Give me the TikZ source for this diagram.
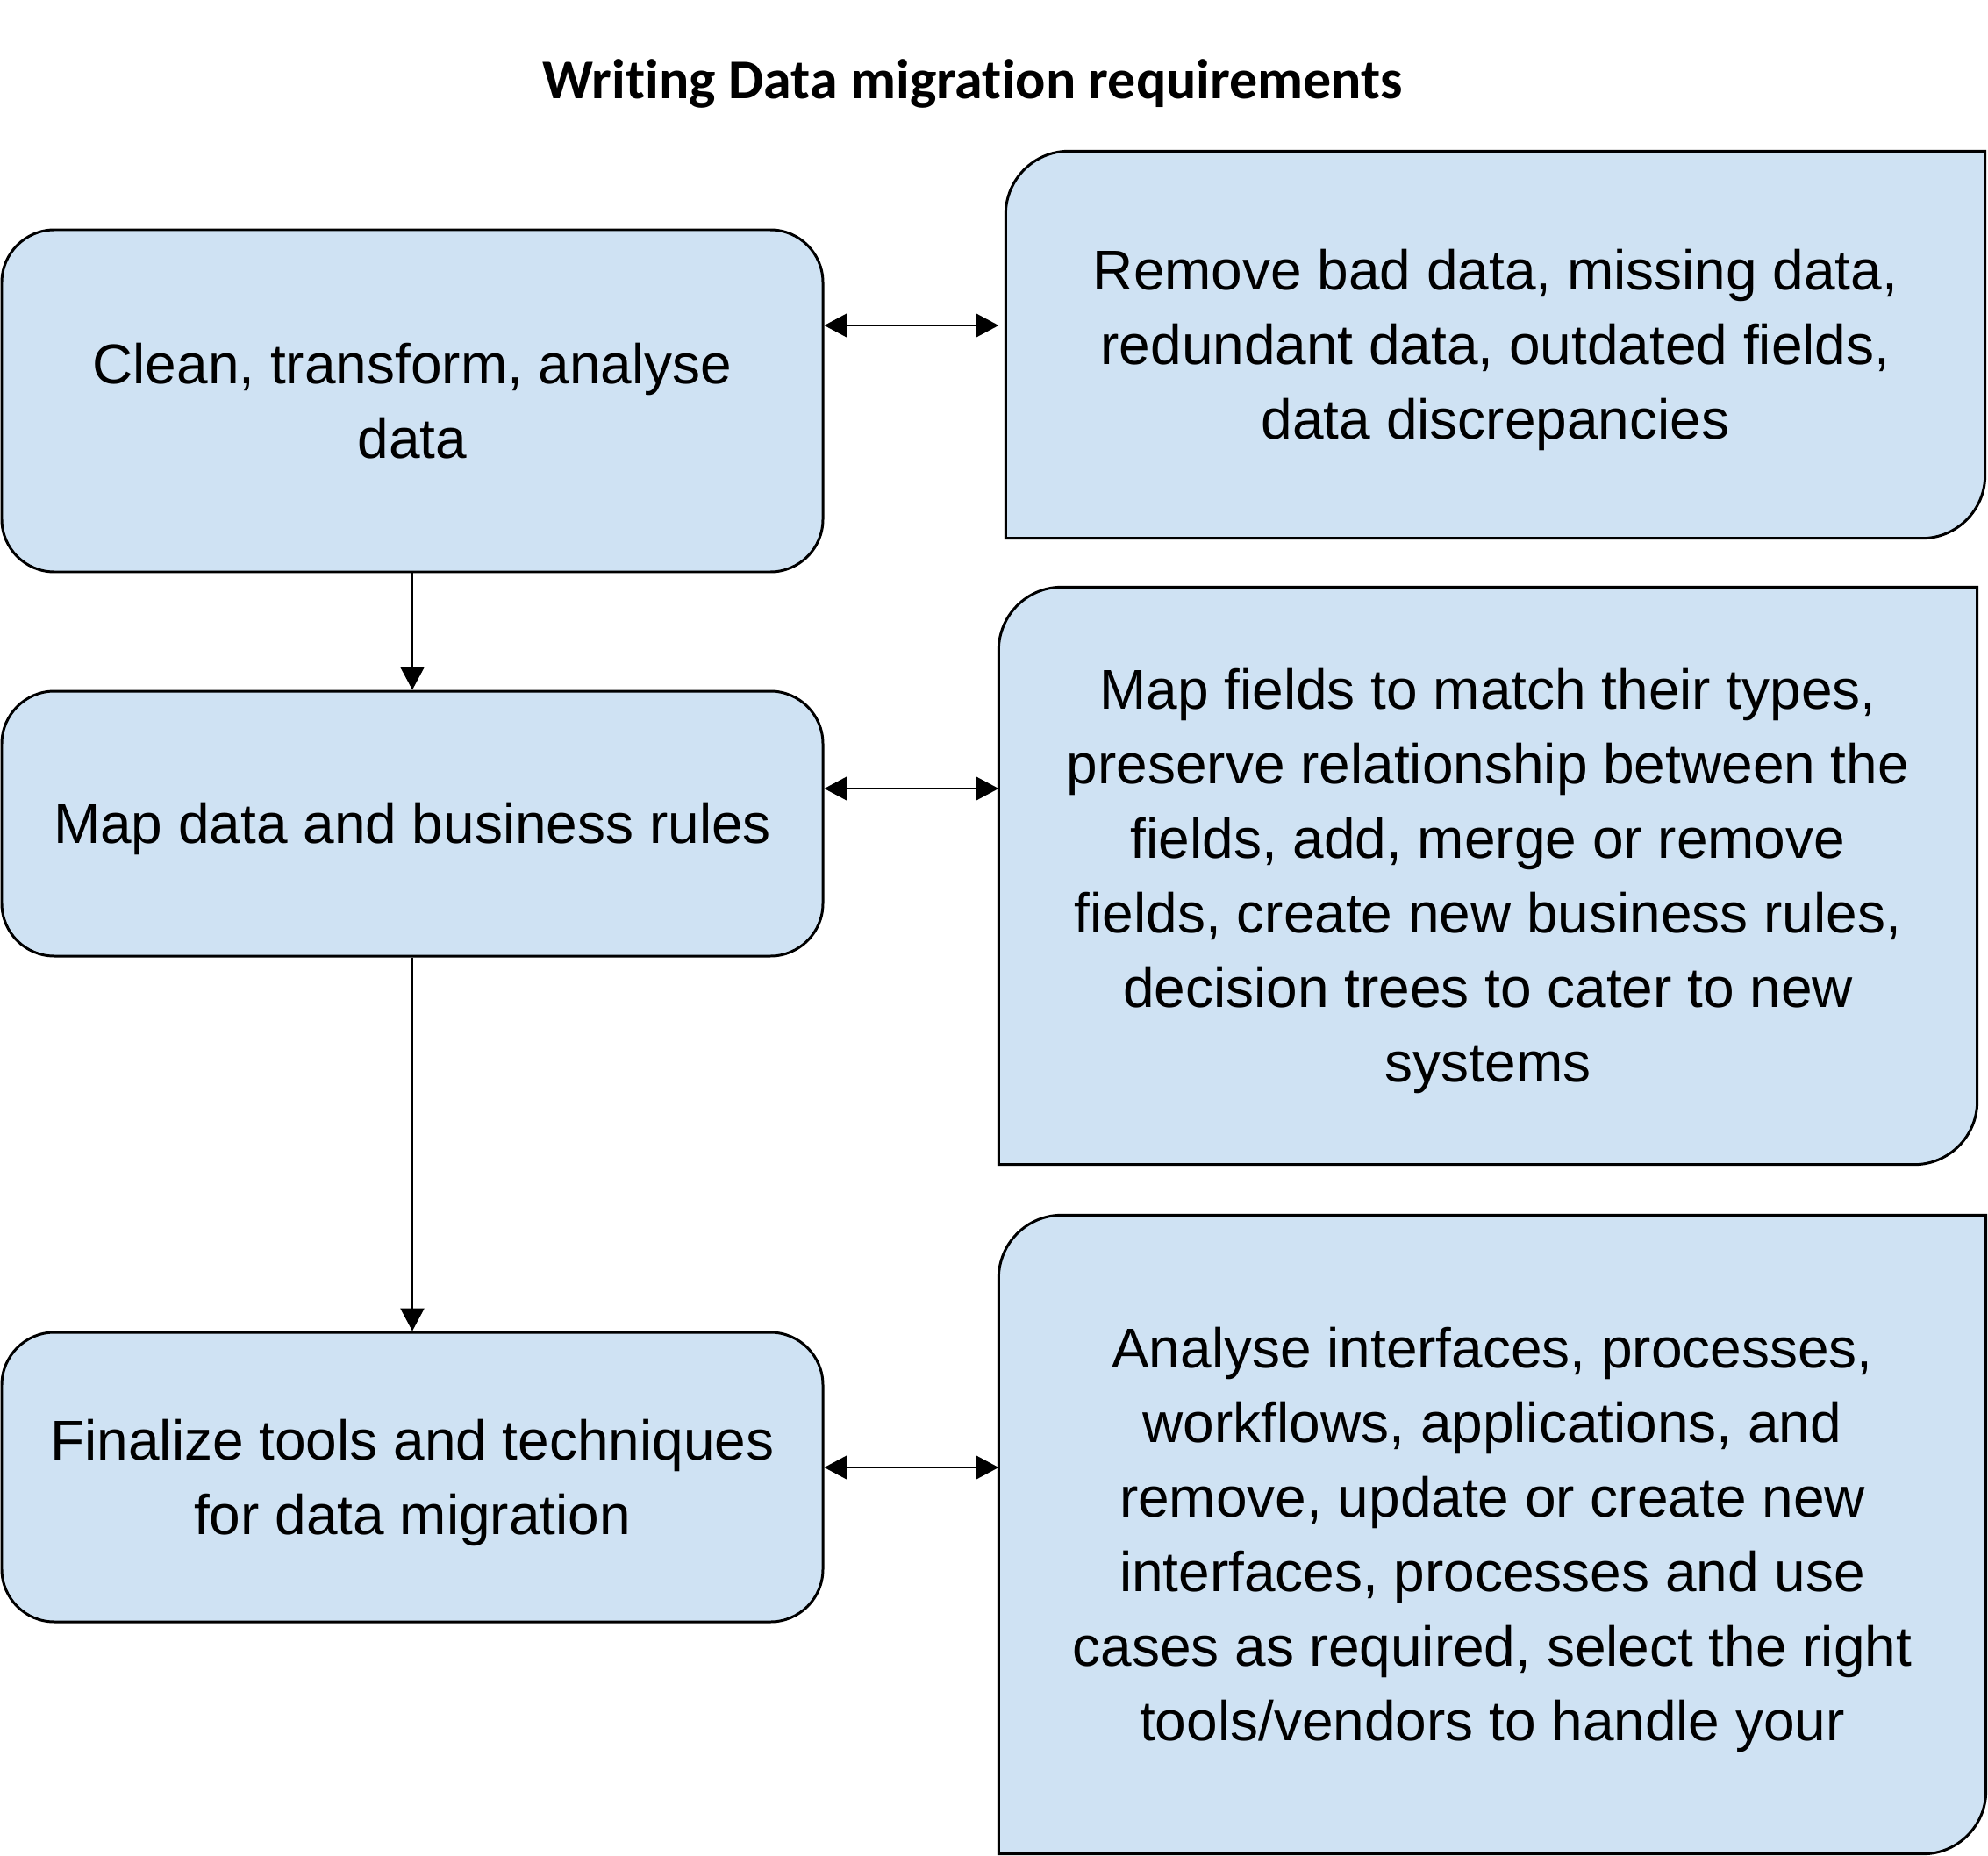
\documentclass[tikz,border=0pt]{standalone}
\usepackage{fontspec}
\setmainfont{Liberation Sans}
\newfontfamily\titlefont[RawFeature={-liga;-clig;-dlig}]{Carlito}
\usetikzlibrary{arrows.meta,backgrounds}
\definecolor{boxblue}{HTML}{CFE2F3}
\newcommand{\tallline}{\rule{0pt}{16.7pt}}
\tikzset{
  stage/.style={draw, fill=boxblue, line width=0.85pt, rounded corners=6mm, align=center, inner sep=0pt, minimum width=9.36cm},
  note/.style={align=center, inner sep=0pt},
  notebox/.style={draw, fill=boxblue, line width=0.85pt},
  link/.style={line width=0.7pt}
}
\begin{document}
\begin{tikzpicture}[font=\fontsize{18.2}{24.2}\selectfont, >={Triangle[length=0.26cm,width=0.27cm]}]
  \useasboundingbox (0,0) rectangle (22.66,-21.16);
  \node[anchor=base, font=\titlefont\bfseries\fontsize{18.2}{22}\selectfont] (title) at (11.09,-1.13) {Writing Data migration requirements};

  % left column
  \node[stage, minimum height=3.90cm] (clean) at (4.70,-4.57) {Clean, transform, analyse\\data};
  \node[stage, minimum height=3.02cm] (map)   at (4.70,-9.39) {\tallline Map data and business rules};
  \node[stage, minimum height=3.30cm] (tools) at (4.70,-16.84) {\tallline Finalize tools and techniques\\for data migration};

  % right column
  \node[note, minimum width=11.15cm, minimum height=4.40cm] (cleannote) at (17.045,-3.93)
    {\tallline Remove bad data, missing data,\\redundant data, outdated fields,\\data discrepancies};
  \node[note, minimum width=11.14cm, minimum height=6.57cm] (mapnote) at (16.96,-9.985)
    {\tallline Map fields to match their types,\\preserve relationship between the\\fields, add, merge or remove\\fields, create new business rules,\\decision trees to cater to new\\systems};
  \node[note, minimum width=11.24cm, minimum height=7.27cm] (toolsnote) at (17.01,-17.495)
    {\tallline Analyse interfaces, processes,\\workflows, applications, and\\remove, update or create new\\interfaces, processes and use\\cases as required, select the right\\tools/vendors to handle your};

  \begin{scope}[on background layer]
    \foreach \n in {cleannote,mapnote,toolsnote}
      \draw[notebox] (\n.south west) -- ([yshift=-7.2mm]\n.north west)
        arc[start angle=180, end angle=90, radius=7.2mm] -- (\n.north east)
        -- ([yshift=7.2mm]\n.south east)
        arc[start angle=0, end angle=-90, radius=7.2mm] -- cycle;
  \end{scope}

  % connectors
  \draw[link,->] (clean) -- (map);
  \draw[link,->] (map) -- (tools);
  \coordinate (a1) at ([yshift=8.6mm]clean.east);
  \coordinate (a2) at ([yshift=4.0mm]map.east);
  \coordinate (a3) at ([yshift=1.1mm]tools.east);
  \draw[link,<->,shorten >=0.8mm] (a1) -- (a1 -| cleannote.west);
  \draw[link,<->] (a2) -- (a2 -| mapnote.west);
  \draw[link,<->] (a3) -- (a3 -| toolsnote.west);
\end{tikzpicture}
\end{document}
